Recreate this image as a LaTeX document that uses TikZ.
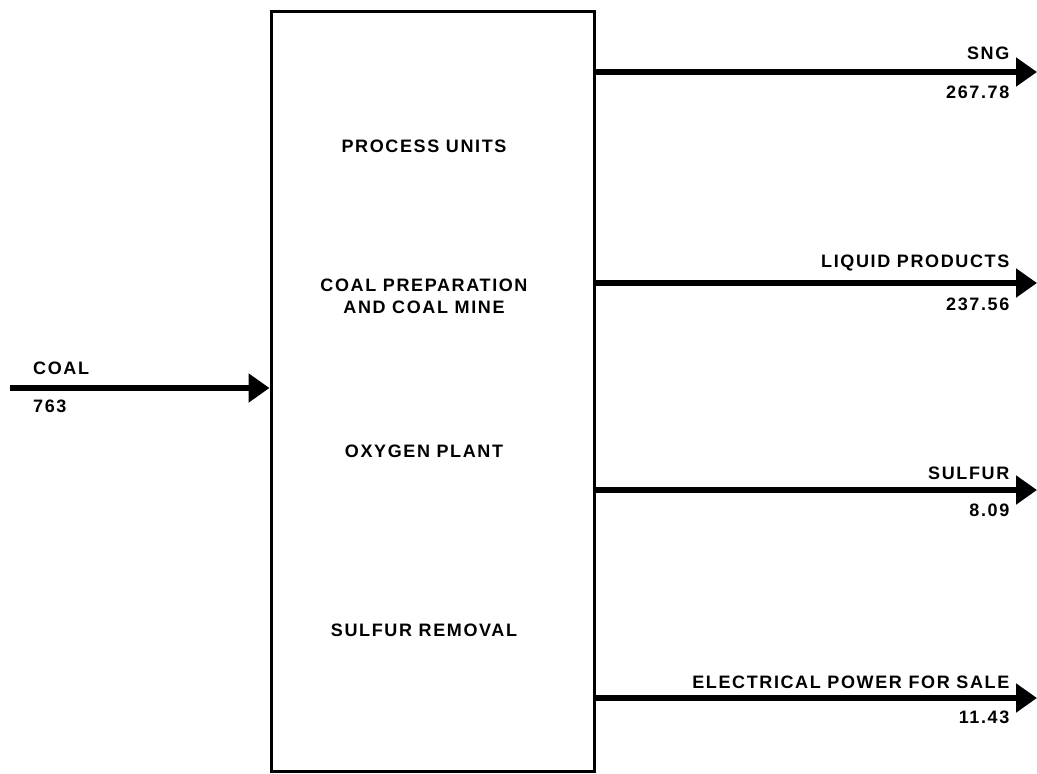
\documentclass[tikz,border=0pt]{standalone}
\usepackage{fontspec}
\setmainfont{Liberation Sans}[LetterSpace=9]
\usetikzlibrary{arrows.meta}
\begin{document}
\begin{tikzpicture}[x=1pt,y=-1pt,
  lbl/.style={font=\fontsize{18}{21}\selectfont\bfseries, inner sep=0pt},
  flow/.style={line width=6pt, -{Triangle[length=21pt,width=28pt]}},
  plantbox/.style={draw, line width=3pt, minimum width=323pt, minimum height=760pt, inner sep=0pt}]
\useasboundingbox (0,0) rectangle (1037,774);
\node[plantbox] (plant) at (432.5,391) {};
% inner labels
\node[lbl] (pu) at (424,146) {PROCESS UNITS};
\node[lbl, align=center] (cp) at (424,296) {COAL PREPARATION\\[1pt]AND COAL MINE};
\node[lbl] (op) at (424,451) {OXYGEN PLANT};
\node[lbl] (sr) at (424,630) {SULFUR REMOVAL};
% input
\coordinate (coalin) at (10,388);
\draw[flow] (coalin) -- (coalin -| plant.west);
\node[lbl, anchor=west] (coallbl) at (33,368) {COAL};
\node[lbl, anchor=west] (coalval) at (33,406) {763};
% outputs
\coordinate (sng) at (1037,72);
\coordinate (liq) at (1037,283);
\coordinate (sul) at (1037,490);
\coordinate (elec) at (1037,698);
\draw[flow] (plant.east |- sng) -- (sng);
\draw[flow] (plant.east |- liq) -- (liq);
\draw[flow] (plant.east |- sul) -- (sul);
\draw[flow] (plant.east |- elec) -- (elec);
\node[lbl, anchor=east] (snglbl) at (1009.5,53) {SNG};
\node[lbl, anchor=east] (sngval) at (1009.5,92) {267.78};
\node[lbl, anchor=east] (liqlbl) at (1009.5,263) {LIQUID PRODUCTS};
\node[lbl, anchor=east] (liqval) at (1009.5,304) {237.56};
\node[lbl, anchor=east] (sullbl) at (1009.5,473) {SULFUR};
\node[lbl, anchor=east] (sulval) at (1009.5,510) {8.09};
\node[lbl, anchor=east] (eleclbl) at (1009.5,682) {ELECTRICAL POWER FOR SALE};
\node[lbl, anchor=east] (elecval) at (1009.5,717) {11.43};
\end{tikzpicture}
\end{document}
